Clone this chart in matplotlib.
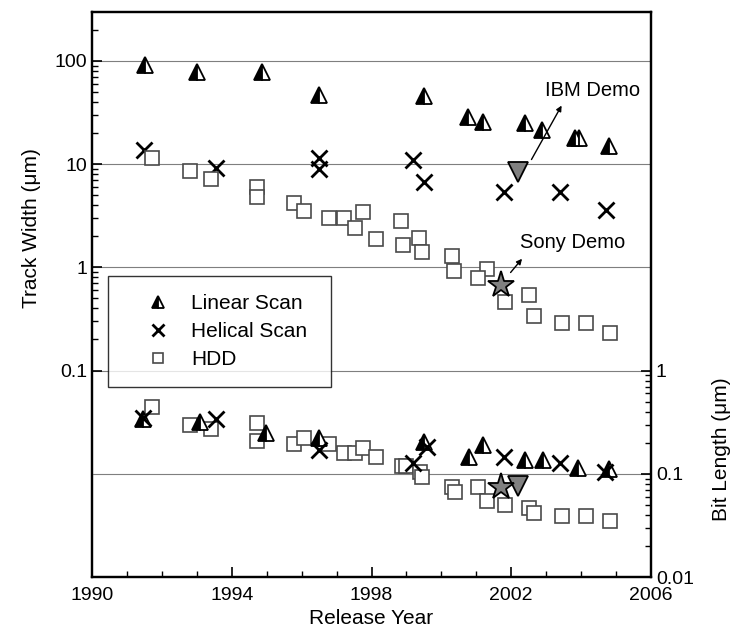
import matplotlib
matplotlib.use("Agg")
import matplotlib.pyplot as plt
from matplotlib.ticker import FixedLocator, FixedFormatter, NullFormatter

plt.rcParams['font.family'] = ['Liberation Sans', 'DejaVu Sans']

# ---- Track width data (left axis, um) ----
lin_tw_year = [1991.52, 1993.0, 1994.87, 1996.5, 1999.5, 2000.76, 2001.19, 2002.39, 2002.88, 2003.82, 2003.94, 2004.8]
lin_tw_val = [91.5, 78, 78, 46.9, 46, 28.7, 25.7, 25.1, 21.5, 18, 18, 15]

hel_tw_year = [1991.49, 1993.55, 1996.5, 1996.5, 1999.19, 1999.5, 2001.79, 2003.4, 2004.71]
hel_tw_val = [13.7, 9.2, 11.5, 9.0, 11.0, 6.7, 5.4, 5.4, 3.6]

hdd_tw_year = [1991.72, 1992.8, 1993.4, 1994.72, 1994.72, 1995.78, 1996.07, 1996.78, 1997.21, 1997.53, 1997.76,
               1998.13, 1998.84, 1998.9, 1999.36, 1999.45, 2000.3, 2000.36, 2001.3, 2001.05, 2001.82, 2002.5,
               2002.65, 2003.45, 2004.14, 2004.83]
hdd_tw_val = [11.5, 8.6, 7.2, 6.0, 4.8, 4.2, 3.53, 3.0, 3.0, 2.42, 3.45,
              1.89, 2.83, 1.65, 1.94, 1.42, 1.29, 0.93, 0.97, 0.78, 0.46, 0.54,
              0.34, 0.29, 0.29, 0.23]

ibm_tw = (2002.19, 8.4)
sony_tw = (2001.7, 0.68)

# ---- Bit length data (right axis, um) ----
lin_bl_year = [1991.46, 1993.09, 1994.98, 1996.5, 1999.5, 2000.79, 2001.19, 2002.39, 2002.9, 2003.9, 2004.8]
lin_bl_val = [0.336, 0.32, 0.25, 0.224, 0.205, 0.147, 0.19, 0.137, 0.137, 0.115, 0.112]

hel_bl_year = [1991.46, 1993.55, 1996.5, 1999.19, 1999.59, 2001.79, 2003.4, 2004.68]
hel_bl_val = [0.35, 0.34, 0.17, 0.128, 0.18, 0.147, 0.128, 0.103]

hdd_bl_year = [1991.72, 1992.8, 1993.4, 1994.72, 1994.72, 1995.78, 1996.07, 1996.78, 1997.21, 1997.53, 1997.76,
               1998.13, 1998.87, 1998.98, 1999.4, 1999.45, 2000.3, 2000.39, 2001.05, 2001.3, 2001.82, 2002.5,
               2002.65, 2003.45, 2004.14, 2004.83]
hdd_bl_val = [0.44, 0.30, 0.27, 0.31, 0.21, 0.196, 0.22, 0.196, 0.16, 0.16, 0.176,
              0.147, 0.12, 0.12, 0.103, 0.094, 0.075, 0.067, 0.075, 0.055, 0.050, 0.047,
              0.042, 0.039, 0.039, 0.0345]

ibm_bl = (2002.19, 0.077)
sony_bl = (2001.7, 0.074)

x_ticks = [1990, 1994, 1998, 2002, 2006]
left_ticks = [0.1, 1, 10, 100]
left_labels = ["0.1", "1", "10", "100"]
right_ticks = [0.01, 0.1, 1]
right_labels = ["0.01", "0.1", "1"]

fig = plt.figure(figsize=(7.35, 6.41), dpi=100)
ax = fig.add_axes([92/735, 1-577/641, (651-92)/735, (577-12)/641])
ax2 = ax.twinx()

ax.set_yscale('log')
ax2.set_yscale('log')
ax.set_xlim(1990, 2006)
ax.set_ylim(0.001, 10**2.474)
ax2.set_ylim(0.01, 10**3.474)

tri_kw = dict(marker='^', linestyle='none', markersize=11.5, fillstyle='left', markerfacecolor='black',
              markerfacecoloralt='white', markeredgecolor='black', markeredgewidth=1.3)
x_kw = dict(marker='x', linestyle='none', markersize=11, color='black', markeredgewidth=2.0)
sq_kw = dict(marker='s', linestyle='none', markersize=9.5, markerfacecolor='white',
             markeredgecolor='#4a4a4a', markeredgewidth=1.2)

# gridlines
for v in left_ticks:
    ax.axhline(v, color='#7f7f7f', lw=0.8, zorder=0)
ax2.axhline(0.1, color='#7f7f7f', lw=0.8, zorder=0)

l1, = ax.plot(lin_tw_year, lin_tw_val, **tri_kw)
l2, = ax.plot(hel_tw_year, hel_tw_val, **x_kw)
l3, = ax.plot(hdd_tw_year, hdd_tw_val, **sq_kw)
ax.plot([ibm_tw[0]], [ibm_tw[1]], marker='v', markersize=15, markerfacecolor='#808080',
        markeredgecolor='black', markeredgewidth=1.3, linestyle='none')
ax.plot([sony_tw[0]], [sony_tw[1]], marker='*', markersize=20, markerfacecolor='#808080',
        markeredgecolor='black', markeredgewidth=1.3, linestyle='none')

ax2.plot(hdd_bl_year, hdd_bl_val, **sq_kw)
ax2.plot(lin_bl_year, lin_bl_val, **tri_kw)
ax2.plot(hel_bl_year, hel_bl_val, **x_kw)
ax2.plot([ibm_bl[0]], [ibm_bl[1]], marker='v', markersize=15, markerfacecolor='#808080',
         markeredgecolor='black', markeredgewidth=1.3, linestyle='none')
ax2.plot([sony_bl[0]], [sony_bl[1]], marker='*', markersize=20, markerfacecolor='#808080',
         markeredgecolor='black', markeredgewidth=1.3, linestyle='none')

# annotations
ax.annotate("", xy=(2003.48, 39), xytext=(2002.54, 10.5),
            arrowprops=dict(arrowstyle='-|>', color='black', lw=1.0, mutation_scale=8))
ax.text(2002.97, 52, "IBM Demo", fontsize=14.5, va='center', ha='left')
ax.annotate("", xy=(2002.36, 1.27), xytext=(2001.93, 0.85),
            arrowprops=dict(arrowstyle='-|>', color='black', lw=1.0, mutation_scale=8))
ax.text(2002.25, 1.73, "Sony Demo", fontsize=14.5, va='center', ha='left')

# ticks
ax.set_xticks(x_ticks)
ax.set_xticks(range(1990, 2007), minor=True)
ax.yaxis.set_major_locator(FixedLocator(left_ticks))
ax.yaxis.set_major_formatter(FixedFormatter(left_labels))
lminor = [m * d for d in [0.1, 1, 10] for m in range(2, 10)] + [200]
ax.yaxis.set_minor_locator(FixedLocator(lminor))
ax.yaxis.set_minor_formatter(NullFormatter())
ax2.yaxis.set_major_locator(FixedLocator(right_ticks))
ax2.yaxis.set_major_formatter(FixedFormatter(right_labels))
rminor = [m * d for d in [0.01, 0.1] for m in range(2, 10)]
ax2.yaxis.set_minor_locator(FixedLocator(rminor))
ax2.yaxis.set_minor_formatter(NullFormatter())

for a in (ax, ax2):
    a.tick_params(which='major', direction='in', length=7, width=1.2, labelsize=14)
    a.tick_params(which='minor', direction='in', length=4, width=1.0)
    for s in a.spines.values():
        s.set_linewidth(1.6)
ax.tick_params(axis='x', which='both', top=False, pad=7)
ax.tick_params(axis='y', which='both', right=False)

ax.set_xlabel("Release Year", fontsize=15)
ax.set_ylabel("Track Width (\u03bcm)", fontsize=15)
ax.yaxis.set_label_coords(-0.092, 0.618)
ax2.set_ylabel("Bit Length (\u03bcm)", fontsize=15)
ax2.yaxis.set_label_coords(1.109, 0.227)

leg = ax2.legend([l1, l2, l3], ["Linear Scan", "Helical Scan", "HDD"],
                 loc='upper left', bbox_to_anchor=(0.0286, 0.336, 0.399, 0.197), mode='expand',
                 fontsize=15, frameon=True, fancybox=False, markerscale=0.8,
                 borderpad=0.89, labelspacing=0.42, handletextpad=0.1, borderaxespad=0,
                 handlelength=3.0)
leg.get_frame().set_edgecolor('black')
leg.get_frame().set_linewidth(1.0)

fig.savefig("out.png", dpi=100)
